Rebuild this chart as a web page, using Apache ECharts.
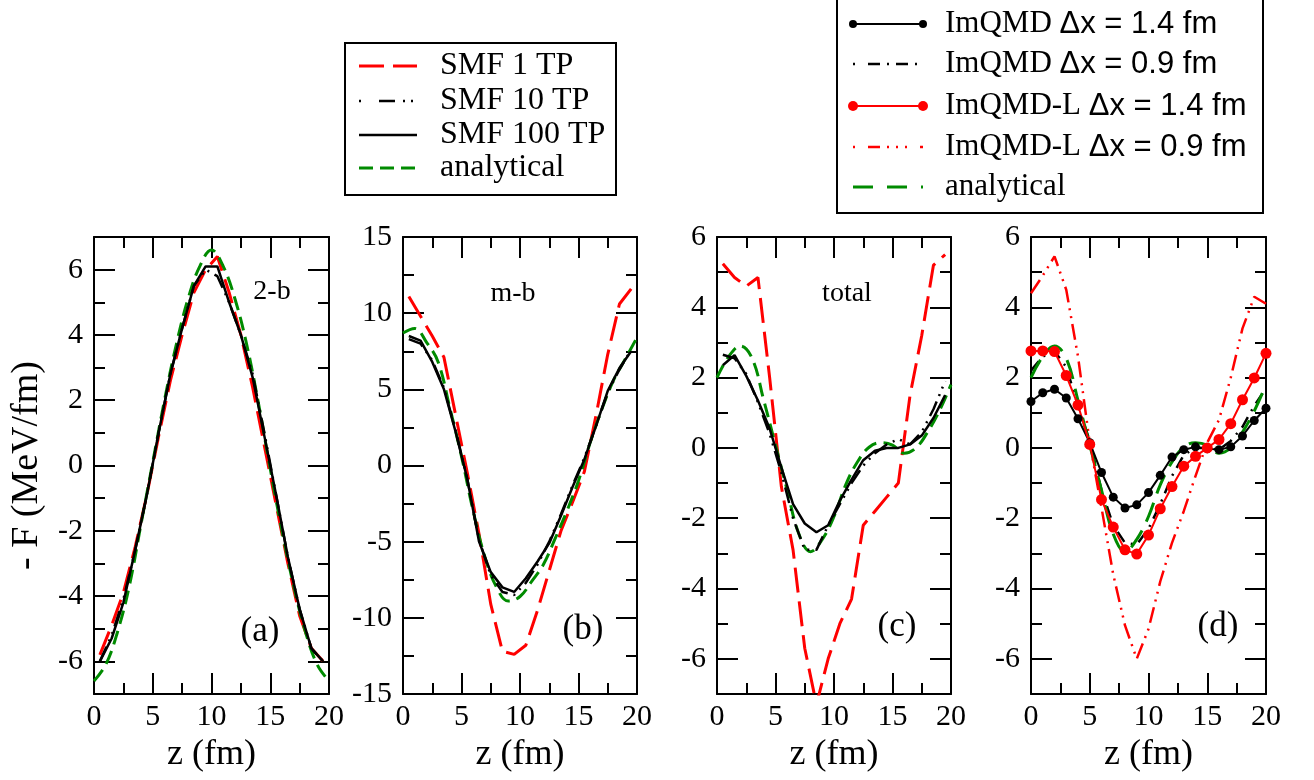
<!DOCTYPE html>
<html>
<head>
<meta charset="utf-8">
<script src="https://cdn.jsdelivr.net/npm/echarts@6/dist/echarts.min.js"></script>
<style>
html, body { margin: 0; padding: 0; background: #fff; }
#main { width: 1314px; height: 780px; }
</style>
</head>
<body>
<div id="main"></div>
<script>
// z grid points (fm)
const zHalf = [0.5, 1.5, 2.5, 3.5, 4.5, 5.5, 6.5, 7.5, 8.5, 9.5, 10.5, 11.5, 12.5, 13.5, 14.5, 15.5, 16.5, 17.5, 18.5, 19.5];
const zInt = [0, 1, 2, 3, 4, 5, 6, 7, 8, 9, 10, 11, 12, 13, 14, 15, 16, 17, 18, 19, 20];

// (a) 2-b
const smf1A = [-5.8, -4.9, -3.9, -2.5, -0.9, 0.9, 2.6, 4.0, 5.3, 6.0, 6.4, 5.3, 4.0, 2.4, 0.6, -1.2, -3.0, -4.6, -5.6, -6.0];
const smf10A = [-6.0, -5.2, -4.1, -2.6, -0.9, 1.0, 2.8, 4.2, 5.5, 6.0, 5.8, 5.0, 4.0, 2.8, 1.0, -0.9, -2.8, -4.4, -5.6, -6.0];
const smf100A = [-6.0, -5.3, -4.2, -2.6, -0.9, 1.0, 2.8, 4.2, 5.5, 6.1, 6.1, 5.0, 4.0, 2.7, 0.9, -0.9, -2.8, -4.4, -5.6, -6.0];
const anaA = [-6.6, -6.1, -5.1, -3.7, -1.8, 0.1, 2.0, 3.7, 5.1, 6.1, 6.6, 6.1, 5.1, 3.7, 1.9, -0.1, -2.0, -3.7, -5.1, -6.1, -6.6];

// (b) m-b
const smf1B = [11.1, 9.8, 8.5, 7.1, 3.3, -0.5, -4.5, -9.1, -12.2, -12.4, -11.8, -9.5, -6.9, -4.3, -2.4, -0.4, 3.3, 7.3, 10.6, 11.6];
const smf10B = [8.3, 8.0, 6.9, 5.1, 2.3, -0.9, -4.9, -7.2, -8.3, -8.5, -7.7, -6.5, -5.0, -3.2, -1.3, 0.5, 2.6, 4.8, 6.3, 7.6];
const smf100B = [8.5, 8.2, 6.8, 5.0, 2.2, -0.9, -5.0, -7.0, -8.0, -8.3, -7.4, -6.3, -5.1, -3.3, -1.4, 0.4, 2.6, 4.9, 6.4, 7.5];
const anaB = [8.7, 9.0, 8.1, 6.8, 3.8, 0.6, -3.0, -6.0, -8.0, -8.9, -8.6, -7.6, -6.5, -4.8, -3.0, -1.0, 1.5, 3.7, 5.6, 7.0, 8.4];

// (c) total
const smf1C = [5.24, 4.85, 4.6, 4.85, 2.0, -1.1, -2.9, -5.7, -7.3, -6.0, -5.0, -4.3, -2.2, -1.8, -1.4, -1.0, 1.5, 3.2, 5.2, 5.5];
const smf10C = [2.65, 2.55, 2.1, 1.3, 0.4, -0.7, -2.0, -2.9, -2.9, -2.2, -1.6, -1.0, -0.5, -0.15, 0.1, 0.25, 0.1, 0.45, 1.1, 1.9];
const smf100C = [2.35, 2.64, 2.05, 1.35, 0.55, -0.55, -1.6, -2.15, -2.4, -2.2, -1.5, -0.9, -0.35, -0.08, 0.0, 0.0, 0.1, 0.35, 0.85, 1.5];
const anaTotal = [2.0, 2.6, 2.9, 2.55, 1.35, 0.08, -1.2, -2.45, -2.95, -2.6, -1.95, -1.05, -0.4, 0.02, 0.15, 0.08, -0.15, 0.0, 0.45, 1.05, 1.8];

// (d) ImQMD
const imqmd14 = [1.32, 1.57, 1.67, 1.42, 0.83, 0.15, -0.7, -1.4, -1.71, -1.62, -1.27, -0.78, -0.26, -0.05, 0.03, -0.02, -0.05, 0.03, 0.34, 0.78, 1.13];
const imqmd09 = [2.2, 2.6, 2.75, 2.3, 1.2, 0.2, -1.2, -2.2, -2.7, -2.75, -2.3, -1.6, -0.8, -0.2, 0.0, 0.0, -0.05, 0.2, 0.6, 1.2, 1.7];
const imqmdL14 = [2.76, 2.76, 2.74, 2.06, 1.22, 0.1, -1.47, -2.25, -2.9, -3.02, -2.48, -1.73, -1.1, -0.52, -0.24, 0.0, 0.24, 0.69, 1.37, 1.99, 2.69];
const imqmdL09 = [4.4, 4.9, 5.45, 4.5, 2.6, 0.15, -1.7, -3.6, -5.05, -6.0, -5.15, -3.8, -2.7, -1.8, -0.8, 0.15, 0.8, 2.0, 3.4, 4.3, 4.1];

// tick labels
const xTicks = [0, 5, 10, 15, 20];
const yTicksA = [-6, -4, -2, 0, 2, 4, 6];
const yMinorA = [-7, -5, -3, -1, 1, 3, 5, 7];
const yTicksB = [-15, -10, -5, 0, 5, 10, 15];
const yMinorB = [-12.5, -7.5, -2.5, 2.5, 7.5, 12.5];
const yTicksCD = [-6, -4, -2, 0, 2, 4, 6];
const yMinorCD = [-7, -5, -3, -1, 1, 3, 5];

const serif = 'Liberation Serif';
const sans = 'Liberation Sans';
const RED = '#ff0000', GREEN = '#008b00', BLACK = '#000000';

function pts(xs, ys) {
  return xs.map((x, i) => [x, ys[i]]);
}

const panels = [
  { left: 94, width: 235, min: -7, max: 7, major: yTicksA, minor: yMinorA },
  { left: 403, width: 234, min: -15, max: 15, major: yTicksB, minor: yMinorB },
  { left: 717, width: 234, min: -7, max: 6, major: yTicksCD, minor: yMinorCD },
  { left: 1031, width: 235, min: -7, max: 6, major: yTicksCD, minor: yMinorCD }
];

const tickLine = { color: BLACK, width: 2 };
const grids = [], xAxes = [], yAxes = [];

panels.forEach(function (p, i) {
  grids.push({ left: p.left, top: 237, width: p.width, height: 457, outerBoundsMode: 'none', containLabel: false });
  ['bottom', 'top'].forEach(function (pos) {
    xAxes.push({
      gridIndex: i, type: 'value', position: pos, min: 0, max: 20,
      axisLine: { show: true, onZero: false, lineStyle: tickLine },
      axisTick: { show: true, inside: true, length: 21, lineStyle: tickLine, customValues: xTicks },
      minorTick: { show: true, splitNumber: 2, length: 11, lineStyle: tickLine },
      splitLine: { show: false }, minorSplitLine: { show: false },
      axisLabel: {
        show: pos === 'bottom', customValues: xTicks, margin: 8,
        fontFamily: serif, fontSize: 30, color: BLACK
      },
      name: pos === 'bottom' ? 'z (fm)' : '',
      nameLocation: 'middle', nameGap: 38,
      nameTextStyle: { fontFamily: serif, fontSize: 36, color: BLACK }
    });
  });
  ['left', 'right'].forEach(function (pos) {
    // major ticks + labels
    yAxes.push({
      gridIndex: i, type: 'value', position: pos, min: p.min, max: p.max,
      axisLine: { show: true, onZero: false, lineStyle: tickLine },
      axisTick: { show: true, inside: true, length: 21, lineStyle: tickLine, customValues: p.major },
      splitLine: { show: false },
      axisLabel: {
        show: pos === 'left', customValues: p.major, margin: 11,
        fontFamily: serif, fontSize: 30, color: BLACK
      },
      name: (i === 0 && pos === 'left') ? '- F (MeV/fm)' : '',
      nameLocation: 'middle', nameGap: 48, nameRotate: 90,
      nameTextStyle: { fontFamily: serif, fontSize: 38, color: BLACK }
    });
    // minor ticks
    yAxes.push({
      gridIndex: i, type: 'value', position: pos, min: p.min, max: p.max,
      axisLine: { show: false, onZero: false },
      axisTick: { show: true, inside: true, length: 11, lineStyle: tickLine, customValues: p.minor },
      splitLine: { show: false },
      axisLabel: { show: false }
    });
  });
});

function line(name, panel, xs, ys, color, width, dash, extra) {
  return Object.assign({
    name: name, type: 'line', xAxisIndex: panel * 2, yAxisIndex: panel * 4,
    data: pts(xs, ys), symbol: 'none', showSymbol: false, clip: true,
    lineStyle: { color: color, width: width, type: dash, cap: 'butt' },
    itemStyle: { color: color },
    emphasis: { disabled: true }
  }, extra || {});
}

const DASH_RED = [25, 9];
const DASH_DOT2 = [16, 6, 2, 6, 2, 6];
const DASH_GREEN = [14, 7];
const DASH_DOT = [12, 7, 2, 7];
const DASH_GREEN_LONG = [20, 10];

const series = [
  line('SMF 1 TP', 0, zHalf, smf1A, RED, 3, DASH_RED),
  line('analytical', 0, zInt, anaA, GREEN, 3, DASH_GREEN, { smooth: 0.4 }),
  line('SMF 10 TP', 0, zHalf, smf10A, BLACK, 2.5, DASH_DOT2),
  line('SMF 100 TP', 0, zHalf, smf100A, BLACK, 2.5, 'solid'),

  line('SMF 1 TP', 1, zHalf, smf1B, RED, 3, DASH_RED),
  line('analytical', 1, zInt, anaB, GREEN, 3, DASH_GREEN, { smooth: 0.4 }),
  line('SMF 10 TP', 1, zHalf, smf10B, BLACK, 2.5, DASH_DOT2),
  line('SMF 100 TP', 1, zHalf, smf100B, BLACK, 2.5, 'solid'),

  line('SMF 1 TP', 2, zHalf, smf1C, RED, 3, DASH_RED),
  line('analytical', 2, zInt, anaTotal, GREEN, 3, DASH_GREEN, { smooth: 0.4 }),
  line('SMF 10 TP', 2, zHalf, smf10C, BLACK, 2.5, DASH_DOT2),
  line('SMF 100 TP', 2, zHalf, smf100C, BLACK, 2.5, 'solid'),

  line('ImQMD-L 0.9', 3, zInt, imqmdL09, RED, 2.5, DASH_DOT2),
  line('ImQMD 0.9', 3, zInt, imqmd09, BLACK, 2.5, DASH_DOT),
  line('analytical', 3, zInt, anaTotal, GREEN, 3, DASH_GREEN_LONG, { smooth: 0.4 }),
  line('ImQMD 1.4', 3, zInt, imqmd14, BLACK, 2, 'solid', { symbol: 'circle', showSymbol: true, symbolSize: 9 }),
  line('ImQMD-L 1.4', 3, zInt, imqmdL14, RED, 2, 'solid', { symbol: 'circle', showSymbol: true, symbolSize: 11 })
];

// legends and panel labels
function legendLine(x1, x2, y, color, width, dash) {
  return { type: 'line', shape: { x1: x1, y1: y, x2: x2, y2: y }, style: { stroke: color, lineWidth: width, lineDash: dash }, z: 100 };
}
function txt(x, y, text, size, align, family) {
  return { type: 'text', x: x, y: y, z: 100,
    style: { text: text, fontFamily: family || serif, fontSize: size, fill: BLACK, align: align || 'left', verticalAlign: 'middle' } };
}
function dot(x, y, r, color) {
  return { type: 'circle', shape: { cx: x, cy: y, r: r }, style: { fill: color }, z: 101 };
}

const leg1Y = [66, 101, 135, 168];
const leg2Y = [24, 64, 106, 147, 187];
const rich = { s: { fontFamily: serif, fontSize: 31, fill: BLACK }, h: { fontFamily: sans, fontSize: 31, fill: BLACK } };
function richTxt(y, a, b) {
  return { type: 'text', x: 945, y: y, z: 100,
    style: { text: '{s|' + a + ' }{h|' + b + '}', rich: rich, verticalAlign: 'middle' } };
}

const graphic = [
  { type: 'rect', shape: { x: 345, y: 43, width: 271, height: 152 }, style: { fill: '#fff', stroke: BLACK, lineWidth: 2 }, z: 99 },
  legendLine(359, 417, leg1Y[0], RED, 3, DASH_RED),
  legendLine(359, 417, leg1Y[1], BLACK, 2.5, [2, 18, 16, 8, 2, 6, 2, 6]),
  legendLine(359, 417, leg1Y[2], BLACK, 2.5, null),
  legendLine(359, 417, leg1Y[3], GREEN, 3, DASH_GREEN),
  txt(440, leg1Y[0], 'SMF 1 TP', 32),
  txt(440, leg1Y[1], 'SMF 10 TP', 32),
  txt(440, leg1Y[2], 'SMF 100 TP', 32),
  txt(440, leg1Y[3], 'analytical', 32),

  { type: 'rect', shape: { x: 837, y: -2, width: 426, height: 215 }, style: { fill: '#fff', stroke: BLACK, lineWidth: 2 }, z: 99 },
  legendLine(853, 923, leg2Y[0], BLACK, 2, null), dot(853, leg2Y[0], 4, BLACK), dot(923, leg2Y[0], 4, BLACK),
  legendLine(853, 923, leg2Y[1], BLACK, 2.5, [2, 13, 12, 7, 2, 7, 12, 7]),
  legendLine(853, 923, leg2Y[2], RED, 2, null), dot(853, leg2Y[2], 5, RED), dot(923, leg2Y[2], 5, RED),
  legendLine(853, 923, leg2Y[3], RED, 2.5, [2, 13, 12, 7, 2, 7, 2, 7]),
  legendLine(853, 923, leg2Y[4], GREEN, 3, [20, 14]),
  richTxt(leg2Y[0], 'ImQMD', 'Δx = 1.4 fm'),
  richTxt(leg2Y[1], 'ImQMD', 'Δx = 0.9 fm'),
  richTxt(leg2Y[2], 'ImQMD-L', 'Δx = 1.4 fm'),
  richTxt(leg2Y[3], 'ImQMD-L', 'Δx = 0.9 fm'),
  txt(945, leg2Y[4], 'analytical', 31),

  txt(272, 292, '2-b', 28, 'center'),
  txt(513, 294, 'm-b', 28, 'center'),
  txt(847, 294, 'total', 28, 'center'),
  txt(260, 632, '(a)', 35, 'center'),
  txt(583, 630, '(b)', 35, 'center'),
  txt(897, 627, '(c)', 35, 'center'),
  txt(1218, 627, '(d)', 35, 'center')
];

const chart = echarts.init(document.getElementById('main'), null, { renderer: 'canvas' });
chart.setOption({
  backgroundColor: '#fff',
  animation: false,
  grid: grids,
  xAxis: xAxes,
  yAxis: yAxes,
  series: series,
  graphic: graphic
});
</script>
</body>
</html>
